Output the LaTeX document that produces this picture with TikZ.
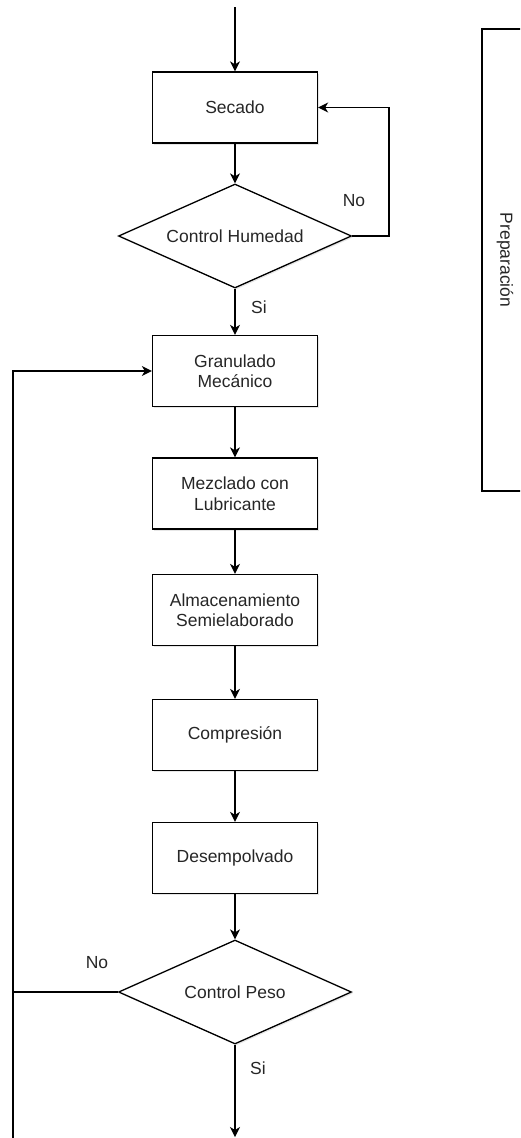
\documentclass[tikz,border=0pt]{standalone}
\usepackage{fontspec}
\setmainfont{Liberation Sans}
\usetikzlibrary{shapes.geometric,arrows.meta,shadows}
\begin{document}
\begin{tikzpicture}[x=1pt,y=-1pt,
  font=\fontsize{17.5}{20.5}\selectfont,
  every node/.style={text=black!85},
  line/.style={line width=1.3pt,draw=black},
  flow/.style={line, -{Stealth[length=10pt,width=10pt,inset=3pt]}},
  stepbox/.style={draw, line width=1.3pt, fill=white, minimum width=165pt,
    minimum height=71pt, inner sep=2pt, align=center,
    drop shadow={shadow xshift=1.5pt, shadow yshift=-1.5pt, opacity=0.2}},
  decision/.style={draw, diamond, aspect=2.2, line width=1.3pt, fill=white,
    minimum width=233pt, minimum height=104pt, inner sep=0pt,
    drop shadow={shadow xshift=1.5pt, shadow yshift=-1.5pt, opacity=0.2}},
  lbl/.style={inner sep=0pt}]
  \useasboundingbox (0,0) rectangle (520,1138);
  \clip (0,0) rectangle (520,1138);

  % right-hand frame
  \draw[line, fill=white] (482,29) rectangle (540,491);
  \node[lbl, rotate=-90] (prep) at (505,260) {Preparación};

  % main column
  \node[stepbox]  (sec)  at (235,107.5) {Secado};
  \node[decision] (hum)  at (235,236)   {Control Humedad};
  \node[stepbox]  (gran) at (235,371)   {Granulado\\Mecánico};
  \node[stepbox]  (mez)  at (235,493.5) {Mezclado con\\Lubricante};
  \node[stepbox]  (alm)  at (235,610)   {Almacenamiento\\Semielaborado};
  \node[stepbox]  (comp) at (235,735)   {Compresión};
  \node[stepbox]  (des)  at (235,858)   {Desempolvado};
  \node[decision] (peso) at (235,992)   {Control Peso};

  \coordinate (start) at (235,7);
  \coordinate (end)   at (235,1137);
  \coordinate (humr)  at (389,236);
  \coordinate (loopb) at (13,1140);

  \draw[flow] (start) -- (sec);
  \draw[flow] (sec) -- (hum);
  \draw[flow] (hum) -- (gran);
  \draw[flow] (gran) -- (mez);
  \draw[flow] (mez) -- (alm);
  \draw[flow] (alm) -- (comp);
  \draw[flow] (comp) -- (des);
  \draw[flow] (des) -- (peso);
  \draw[flow] (peso) -- (end);

  % feedback loops
  \draw[flow] (hum.east) -- (humr) |- (sec.east);
  \draw[flow] (loopb) |- (gran.west);
  \draw[line] (peso.west) -- (peso.west -| loopb);

  % branch labels
  \node[lbl] (no1) at (354,201)  {No};
  \node[lbl] (si1) at (259,307)  {Si};
  \node[lbl] (no2) at (97,963)   {No};
  \node[lbl] (si2) at (258,1068) {Si};
\end{tikzpicture}
\end{document}
